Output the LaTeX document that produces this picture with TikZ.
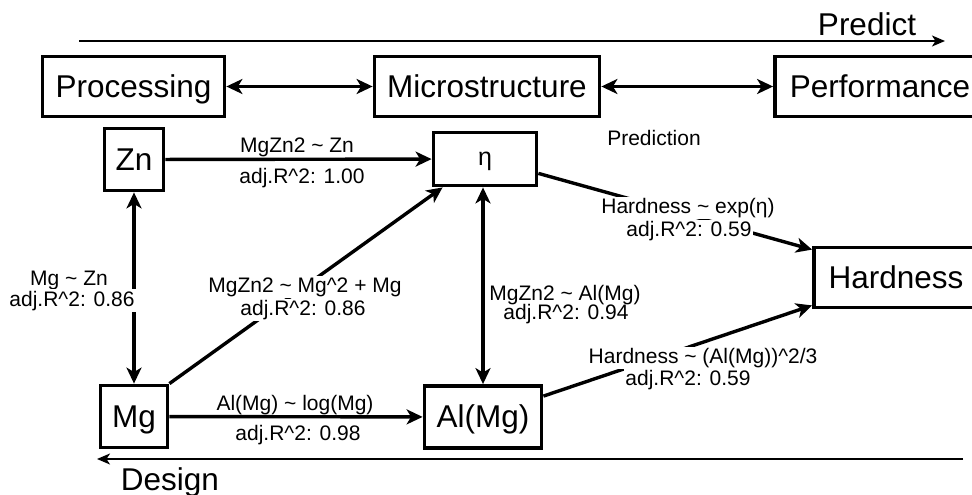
\documentclass[tikz,border=0pt]{standalone}
\usepackage{fontspec}
\setmainfont{Liberation Sans}
\usetikzlibrary{arrows.meta,calc}
\newcommand{\tld}{\textasciitilde}
\newcommand{\crt}{\textasciicircum}

\tikzset{
  bighead/.tip={Stealth[length=16pt,width=15pt,inset=4.5pt]},
  thinhead/.tip={Stealth[length=13pt,width=11pt,inset=3.5pt]},
}

\begin{document}
\begin{tikzpicture}[x=1pt,y=-1pt,
  bigtxt/.style={font=\fontsize{31.5}{36}\selectfont},
  smalltxt/.style={font=\fontsize{21}{22}\selectfont},
  box/.style={draw, line width=3.8pt, inner sep=0pt, text height=21pt, text depth=0pt, bigtxt},
  link/.style={line width=3.4pt, -bighead},
  duallink/.style={line width=3.4pt, bighead-bighead},
  flow/.style={line width=1.7pt, -thinhead},
  lbl/.style={smalltxt, inner sep=0pt, anchor=base},
  cutlbl/.style={lbl, fill=white, inner sep=1.2pt},
]
\useasboundingbox (0,0) rectangle (972,495);

% Predict / Design directions
\coordinate (p0) at (79,41);
\coordinate (p1) at (945,41);
\coordinate (d0) at (963,459);
\coordinate (d1) at (97,459);
\draw[flow] (p0) -- (p1);
\draw[flow] (d0) -- (d1);
\node[bigtxt, anchor=base, inner sep=0pt] (predict) at (867,36) {Predict};
\node[bigtxt, anchor=base, inner sep=0pt] (design) at (170,490) {Design};

% Top level chain
\node[box, minimum width=182, minimum height=60] (proc) at (133.5,86.5) {Processing};
\node[box, minimum width=225, minimum height=60] (micro) at (487,86.5) {Microstructure};
\node[box, minimum width=210, minimum height=60] (perf) at (880,86.5) {Performance};
\draw[duallink] (proc) -- (micro);
\draw[duallink] (micro) -- (perf);

% Variables
\node[box, minimum width=59, minimum height=62] (zn) at (134,159.5) {Zn};
\node[box, minimum width=103, minimum height=53, font=\fontsize{25}{28}\selectfont, text height=14pt, text depth=2pt] (eta) at (485,159) {η};
\node[box, minimum width=67, minimum height=62] (mg) at (134,416.5) {Mg};
\node[box, minimum width=117, minimum height=62] (al) at (483,417) {Al(Mg)};
\node[box, minimum width=164, minimum height=60] (hard) at (896,277.5) {Hardness};

\node[lbl] (predlbl) at (654,145) {Prediction};

% Zn -> eta
\draw[link] (zn) -- (eta);
\node[lbl] (zneta1) at (297,152) {MgZn2 \tld\ Zn};
\node[lbl] (zneta2) at (302,183) {adj.R\crt2: 1.00};

% Mg <-> Zn
\draw[duallink] (mg) -- (zn);
\node[cutlbl] (mgzn1) at (69,285) {Mg \tld\ Zn};
\node[cutlbl, inner sep=2pt] (mgzn2) at (72,306) {adj.R\crt2: 0.86};

% Mg -> eta
\draw[link] (mg.north east) -- ([xshift=11pt]eta.south west);
\node[cutlbl] (mgeta1) at (305,292) {MgZn2 \tld\ Mg\crt2 + Mg};
\node[cutlbl] (mgeta2) at (303,315) {adj.R\crt2: 0.86};

% eta <-> Al(Mg)
\draw[duallink] (al.north |- eta.south) -- (al.north);
\node[lbl] (etaal1) at (565,300) {MgZn2 \tld\ Al(Mg)};
\node[lbl] (etaal2) at (566,319) {adj.R\crt2: 0.94};

% Mg -> Al(Mg)
\draw[link] (mg) -- (al);
\node[lbl] (mgal1) at (295,410) {Al(Mg) \tld\ log(Mg)};
\node[lbl] (mgal2) at (298,440) {adj.R\crt2: 0.98};

% eta -> Hardness
\draw[link] ([yshift=14pt]eta.south east) -- ([yshift=-4pt]hard.north west);
\node[cutlbl] (etahard1) at (688,213) {Hardness \tld\ exp(η)};
\node[cutlbl] (etahard2) at (689,236) {adj.R\crt2: 0.59};

% Al(Mg) -> Hardness
\draw[link] ([yshift=-12pt]al.north east) -- ([yshift=4pt]hard.south west);
\node[cutlbl] (alhard1) at (703,363) {Hardness \tld\ (Al(Mg))\crt2/3};
\node[cutlbl] (alhard2) at (688,385) {adj.R\crt2: 0.59};
\end{tikzpicture}
\end{document}
